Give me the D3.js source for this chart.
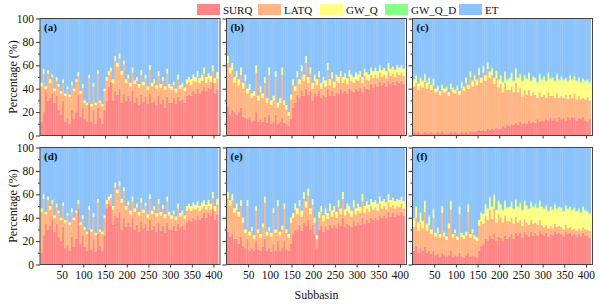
<!DOCTYPE html>
<html>
<head>
<meta charset="utf-8">
<script src="https://cdn.jsdelivr.net/npm/d3@7"></script>
<style>
body { margin: 0; background: #fff; }
svg { display: block; }
text { font-family: "Liberation Serif", "Times New Roman", serif; fill: #111; }
</style>
</head>
<body>
<svg id="chart" width="600" height="305"></svg>
<script>
"use strict";

// series names and legend order
const keys = ["SURQ", "LATQ", "GW_Q", "GW_Q_D", "ET"];
const colors = ["#ff8686", "#ffb684", "#ffff86", "#86ff86", "#8cc3fc"];
const panelNames = ["(a)", "(b)", "(c)", "(d)", "(e)", "(f)"];
const xTicks = [50, 100, 150, 200, 250, 300, 350, 400];
const yTicks = [0, 20, 40, 60, 80, 100];
const binSize = 5;   // each bar = 5 consecutive subbasins (1..410)

// (a)
const surqA = [12,20,38,30, 32,36,28,34, 22,18,30,12, 15,10,22,14, 20,35,16,24, 14,12,28,12, 22,10,24,15, 10,22,30,42, 46,30,38,35, 40,28,36,30, 34,30,38,28, 32,26,35,29, 33,27,36,28, 30,26,34,27, 31,24,33,28, 28,32,27,33, 30,31,28,34, 35,34,38,36, 40,36,38,42, 38,41,40,45, 36,40];
const latqA = [30,33,2,23, 13,14,10,13, 20,18,15,22, 25,23,21,24, 26,16,20,17, 14,14,21,13, 20,16,29,13, 15,16,17,10, 9,15,26,24, 26,24,25,15, 15,12,16,16, 15,15,17,14, 16,12,20,14, 15,14,17,14, 16,15,20,13, 11,11,10,15, 10,11,10,10, 11,9,9,10, 10,9,9,11, 7,8,6,10, 9,9];
const gwqA = [3,4,2,3, 3,2,2,3, 2,2,3,2, 2,2,3,2, 2,3,2,3, 2,2,3,2, 3,2,3,2, 2,2,3,3, 3,3,4,3, 4,3,3,3, 3,3,4,3, 3,3,4,3, 3,3,4,3, 3,3,4,3, 3,3,4,3, 3,3,3,4, 3,3,3,4, 4,5,5,4, 5,4,5,5, 5,4,5,5, 4,5];
const gwqdA = [0,0,0,0,0,0,0,0,0,0, 0,0,0,0,0,0,0,0,0,0, 0,0,0,0,0,0,0,0,0,0, 0,0,0,0,0,0,0,0,0,0, 0,0,0,0,0,0,0,0,0,0, 0,0,0,0,0,0,0,0,0,0, 0,0,0,0,0,0,0,0,0,0, 0,0,0,0,0,0,0,0,0,0, 0,0];
const etA = [55,43,58,44, 52,48,60,50, 56,62,52,64, 58,65,54,60, 52,46,62,56, 70,72,48,73, 55,72,44,70, 73,60,50,45, 42,52,32,38, 30,45,36,52, 48,55,42,53, 50,56,44,54, 48,58,40,55, 52,57,45,56, 50,58,43,56, 58,54,60,48, 57,55,59,52, 50,52,48,50, 45,51,48,42, 50,47,49,40, 51,46];

// (b)
const surqB = [25,18,22,20, 18,20,24,16, 15,14,16,12, 13,20,12,14, 12,16,11,18, 10,12,18,10, 12,15,11,10, 8,14,24,28, 35,32,38,34, 40,35,38,30, 36,34,38,32, 35,33,40,34, 38,34,37,36, 40,37,38,36, 40,38,37,40, 38,41,37,42, 40,39,44,41, 44,42,46,43, 45,42,47,44, 46,43,47,45, 47,44];
const latqB = [37,35,34,25, 32,23,28,24, 32,22,23,20, 21,34,18,23, 20,29,17,34, 16,18,32,14, 16,37,15,12, 9,17,19,10, 15,12,17,13, 22,10,15,10, 11,9,12,8, 10,9,16,9, 11,7,10,9, 10,8,10,8, 10,9,8,8, 9,9,8,9, 8,8,8,8, 8,7,8,7, 7,7,8,7, 7,7,7,7, 7,7];
const gwqB = [6,5,6,5, 5,5,6,5, 5,4,5,4, 4,6,4,5, 4,5,4,6, 4,4,5,4, 4,6,4,4, 3,4,5,4, 5,4,5,5, 6,5,5,5, 5,5,5,5, 5,5,6,5, 5,5,5,5, 5,5,5,5, 6,5,5,6, 5,5,5,6, 6,5,6,6, 6,6,6,6, 6,6,7,6, 6,6,6,6, 6,6];
const gwqdB = [0,0,0,0,0,0,0,0,0,0, 0,0,0,0,0,0,0,0,0,0, 0,0,0,0,0,0,0,0,0,0, 0,0,0,0,0,0,0,0,0,0, 0,0,0,0,0,0,0,0,0,0, 0,0,0,0,0,0,0,0,0,0, 0,0,0,0,0,0,0,0,0,0, 0,0,0,0,0,0,0,0,0,0, 0,0];
const etB = [32,42,38,50, 45,52,42,55, 48,60,56,64, 62,40,66,58, 64,50,68,42, 70,66,45,72, 68,42,70,74, 80,65,52,58, 45,52,40,48, 32,50,42,55, 48,52,45,55, 50,53,38,52, 46,54,48,50, 45,50,47,51, 44,48,50,46, 48,45,50,43, 46,48,42,45, 42,45,40,44, 42,45,38,43, 41,44,40,42, 40,43];

// (c)
const surqC = [3,2,3,2, 2,3,2,2, 3,2,2,3, 2,3,2,2, 2,3,2,3, 2,2,3,2, 3,2,4,3, 3,4,5,4, 5,4,6,5, 6,5,7,6, 6,8,7,9, 8,10,9,11, 9,12,10,11, 10,13,11,12, 11,14,12,13, 12,14,13,15, 13,15,12,16, 14,15,13,16, 14,16,15,13, 15,14,16,13, 12,14];
const latqC = [39,43,36,41, 39,43,38,42, 36,41,35,35, 33,36,35,36, 32,37,35,33, 37,33,38,36, 42,38,46,39, 44,39,47,41, 49,43,51,44, 46,39,42,35, 38,29,38,30, 31,32,28,34, 28,29,23,28, 25,26,23,25, 24,18,25,20, 23,18,24,19, 21,17,24,16, 20,17,22,15, 21,16,21,18, 19,17,16,18, 21,16];
const gwqC = [5,6,5,6, 5,6,5,5, 4,5,3,4, 3,4,3,3, 3,4,3,3, 3,3,4,3, 4,3,4,4, 4,4,5,4, 5,4,5,5, 5,5,6,6, 7,8,9,8, 10,11,9,12, 12,11,13,12, 13,14,12,13, 14,13,15,14, 15,14,16,14, 15,14,16,15, 16,15,14,15, 16,15,14,15, 15,14,16,15, 14,15];
const gwqdC = [1,1,1,1,1,1,1,1,1,1, 0,1,0,1,0,1,0,1,1,0, 1,0,1,1,1,1,1,1,1,1, 1,1,1,1,1,1,1,1,1,1, 1,1,1,1,1,1,1,1,1,1, 1,1,1,1,1,1,1,1,1,1, 1,1,1,1,1,1,1,1,1,1, 1,1,1,1,1,1,1,1,1,1, 1,1];
const etC = [52,48,55,50, 53,47,54,50, 56,51,60,57, 62,56,60,58, 63,55,59,61, 57,62,54,58, 50,56,45,53, 48,52,42,50, 40,48,37,45, 42,50,44,52, 48,54,45,52, 50,46,53,42, 50,47,53,48, 51,46,53,49, 50,54,47,52, 49,53,46,51, 50,53,47,52, 49,52,50,53, 48,52,49,53, 50,54,51,53, 52,54];

// (d)
const surqD = [10,25,35,30, 33,38,28,35, 24,20,32,14, 17,12,24,15, 22,48,18,25, 15,12,30,13, 22,11,26,16, 12,25,48,52, 50,34,42,40, 45,30,40,32, 36,32,40,30, 34,28,37,31, 35,29,38,30, 33,28,36,29, 33,27,36,30, 30,33,29,35, 32,33,30,36, 38,37,40,38, 42,38,40,44, 40,44,42,48, 38,43];
const latqD = [35,31,8,25, 14,14,12,14, 20,18,18,22, 25,22,21,23, 22,4,16,14, 15,14,17,15, 19,14,27,12, 14,15,4,3, 7,13,24,21, 22,23,23,15, 15,11,14,15, 15,14,16,13, 15,11,18,13, 14,13,16,13, 15,13,18,12, 9,10,9,13, 9,10,9,10, 10,9,8,9, 7,8,8,6, 7,6,5,9, 8,8];
const gwqD = [3,4,2,3, 3,3,2,3, 2,2,3,2, 2,2,3,2, 2,3,2,3, 2,2,3,2, 3,2,3,2, 2,2,3,3, 3,3,4,3, 4,3,3,3, 3,3,4,3, 3,3,4,3, 3,3,4,3, 3,3,4,3, 3,3,4,3, 3,3,3,4, 3,3,3,4, 4,4,5,4, 5,4,5,5, 4,5,5,5, 4,5];
const gwqdD = [0,0,0,0,0,0,0,0,0,0, 0,0,0,0,0,0,0,0,0,0, 0,0,0,0,0,0,0,0,0,0, 0,0,0,0,0,0,0,0,0,0, 0,0,0,0,0,0,0,0,0,0, 0,0,0,0,0,0,0,0,0,0, 0,0,0,0,0,0,0,0,0,0, 0,0,0,0,0,0,0,0,0,0, 0,0];
const etD = [52,40,55,42, 50,45,58,48, 54,60,47,62, 56,64,52,60, 54,45,64,58, 68,72,50,70, 56,73,44,70, 72,58,45,42, 40,50,30,36, 29,44,34,50, 46,54,42,52, 48,55,43,53, 47,57,40,54, 50,56,44,55, 49,57,42,55, 58,54,59,48, 56,54,58,50, 48,50,47,49, 46,50,47,45, 49,45,48,38, 50,44];

// (e)
const surqE = [28,24,26,22, 22,18,24,16, 14,22,12,14, 12,20,13,12, 15,22,12,14, 11,18,12,20, 12,14,20,13, 12,18,26,30, 30,34,29,36, 33,38,30,34, 26,14,30,33, 28,32,30,34, 31,34,31,36, 33,40,32,35, 34,32,37,33, 36,34,40,35, 38,36,40,38, 40,38,42,40, 42,40,45,41, 44,41,43,42, 45,42];
const latqE = [29,26,29,22, 25,23,26,20, 13,28,13,15, 10,26,14,11, 17,31,13,15, 13,26,15,30, 13,16,28,14, 11,18,14,17, 13,16,12,20, 16,21,13,17, 10,8,10,12, 9,11,9,12, 10,11,9,13, 10,16,10,11, 10,9,12,10, 10,10,14,9, 10,9,10,9, 9,8,10,8, 8,7,8,8, 7,7,7,7, 7,6];
const gwqE = [5,5,5,4, 5,4,5,4, 3,5,3,3, 3,4,3,3, 3,5,3,3, 3,4,3,5, 3,3,4,3, 3,4,4,5, 5,5,5,6, 5,6,5,5, 4,3,5,5, 5,5,5,6, 5,5,5,6, 5,6,5,6, 6,5,6,5, 6,5,6,6, 6,6,6,6, 6,6,6,6, 6,6,7,6, 6,6,6,6, 6,6];
const gwqdE = [0,0,0,0,0,0,0,0,0,0, 0,0,0,0,0,0,0,0,0,0, 0,0,0,0,0,0,0,0,0,0, 0,0,0,0,0,0,0,0,0,0, 0,0,0,0,0,0,0,0,0,0, 0,0,0,0,0,0,0,0,0,0, 0,0,0,0,0,0,0,0,0,0, 0,0,0,0,0,0,0,0,0,0, 0,0];
const etE = [38,45,40,52, 48,55,45,60, 70,45,72,68, 75,50,70,74, 65,42,72,68, 73,52,70,45, 72,67,48,70, 74,60,56,48, 52,45,54,38, 46,35,52,44, 60,75,55,50, 58,52,56,48, 54,50,55,45, 52,38,53,48, 50,54,45,52, 48,51,40,50, 46,49,44,47, 45,48,42,46, 44,47,40,45, 43,46,44,45, 42,46];

// (f)
const surqF = [12,16,10,14, 12,15,10,12, 9,12,8,9, 7,10,8,7, 8,12,7,8, 7,10,7,6, 8,10,7,8, 7,6,12,16, 18,22,20,25, 22,26,20,24, 23,20,25,22, 24,26,22,27, 25,27,23,28, 26,24,28,25, 27,25,29,26, 25,27,24,26, 25,28,26,27, 26,24,28,26, 27,25,26,24, 26,24,27,25, 25,23];
const latqF = [20,24,19,22, 19,30,19,22, 17,28,16,18, 16,34,16,14, 23,35,16,19, 14,33,17,16, 17,35,16,19, 15,14,21,21, 17,20,18,22, 17,22,16,19, 17,16,17,15, 13,14,13,14, 11,11,10,11, 10,10,10,10, 9,9,9,8, 7,7,7,7, 6,7,6,6, 6,6,6,5, 5,5,5,5, 5,5,5,5, 5,6];
const gwqF = [7,9,6,8, 6,9,5,7, 4,7,3,4, 3,6,3,3, 4,7,3,3, 3,6,3,3, 3,6,3,3, 3,3,5,7, 8,9,9,10, 10,11,10,11, 11,10,12,11, 12,13,12,14, 13,14,13,15, 14,13,15,14, 15,14,16,15, 15,16,14,16, 15,16,15,16, 16,15,16,16, 17,16,17,16, 16,15,17,16, 15,14];
const gwqdF = [1,1,1,1,1,1,1,1,0,1, 0,1,0,0,1,0,0,1,0,0, 0,1,0,0,0,1,0,0,0,0, 0,1,1,1,1,1,1,1,1,1, 1,1,1,1,1,1,1,1,1,1, 1,1,1,1,1,1,1,1,1,1, 1,1,1,1,1,1,1,1,1,1, 1,1,1,1,1,1,1,1,1,1, 1,1];
const etF = [60,50,64,55, 62,45,65,58, 70,52,73,68, 74,50,72,76, 65,45,74,70, 76,50,73,75, 72,48,74,70, 75,77,62,55, 56,48,52,42, 50,40,53,45, 48,53,45,51, 50,46,52,44, 50,47,53,45, 49,52,46,50, 48,51,45,50, 52,49,54,50, 53,48,52,50, 51,54,49,52, 50,53,51,54, 52,55,50,53, 54,56];

const panelSeries = [
	[surqA, latqA, gwqA, gwqdA, etA],
	[surqB, latqB, gwqB, gwqdB, etB],
	[surqC, latqC, gwqC, gwqdC, etC],
	[surqD, latqD, gwqD, gwqdD, etD],
	[surqE, latqE, gwqE, gwqdE, etE],
	[surqF, latqF, gwqF, gwqdF, etF]
];

//layout
const colLeft = [40, 226.5, 412.5];
const rowTop = [18.5, 147.5];
const pw = 180, ph = 117;

const svg = d3.select("#chart");

const x = d3.scaleLinear().domain([0, 415]).range([0, pw]);
const y = d3.scaleLinear().domain([0, 1]).range([ph, 0]);
const color = d3.scaleOrdinal().domain(keys).range(colors);

const stack = d3.stack().keys(keys).offset(d3.stackOffsetExpand);

panelSeries.forEach(function(series, p)
{
	let col = p % 3, row = Math.floor(p / 3);
	let g = svg.append("g")
		.attr("transform", "translate(" + colLeft[col] + "," + rowTop[row] + ")");

	//rows: one per bin of subbasins
	let rows = series[0].map(function(v, i)
	{
		let r = { start: i * binSize + 1 };
		keys.forEach(function(k, j) { r[k] = series[j][i]; });
		return r;
	});

	g.append("clipPath").attr("id", "clip" + p)
		.append("rect").attr("width", pw).attr("height", ph);

	let layers = g.append("g").attr("clip-path", "url(#clip" + p + ")")
		.selectAll("g")
		.data(stack(rows))
		.join("g")
		.attr("fill", function(d) { return color(d.key); });

	layers.selectAll("rect")
		.data(function(d) { return d; })
		.join("rect")
		.attr("x", function(d) { return x(d.data.start - 0.5); })
		.attr("width", function(d) { return x(d.data.start + binSize - 0.5) - x(d.data.start - 0.5) + 0.35; })
		.attr("y", function(d) { return y(d[1]); })
		.attr("height", function(d) { return Math.max(0, y(d[0]) - y(d[1])); });

	//y axis
	let yAxis = d3.axisLeft(y)
		.tickValues(yTicks.map(function(t) { return t / 100; }))
		.tickSize(4)
		.tickPadding(2)
		.tickFormat(col === 0 ? function(d) { return Math.round(d * 100); } : "");
	let ya = g.append("g").call(yAxis);
	let yMinor = g.append("g").call(d3.axisLeft(y)
		.tickValues([0.1, 0.3, 0.5, 0.7, 0.9]).tickSize(2).tickFormat(""));

	//x axis
	let xAxis = d3.axisBottom(x)
		.tickValues(xTicks)
		.tickSize(3)
		.tickPadding(3)
		.tickFormat(row === 1 ? d3.format("d") : "");
	let xa = g.append("g").attr("transform", "translate(0," + ph + ")").call(xAxis);

	[ya, yMinor, xa].forEach(function(a)
	{
		a.select(".domain").remove();
		a.selectAll("line").attr("stroke", "#333");
		a.selectAll("text")
			.attr("fill", "#111")
			.style("font-size", "11.5px")
			.style("font-family", "'Liberation Serif', serif");
	});

	//frame
	g.append("rect")
		.attr("width", pw).attr("height", ph)
		.attr("fill", "none")
		.attr("stroke", "#444")
		.attr("stroke-width", 1);

	g.append("text")
		.attr("x", 4).attr("y", 12)
		.attr("font-size", "11px")
		.attr("font-weight", "bold")
		.attr("fill", "#222")
		.text(panelNames[p]);
});

//axis titles
[rowTop[0] + ph / 2, rowTop[1] + ph / 2].forEach(function(cy)
{
	svg.append("text")
		.attr("transform", "translate(14," + cy + ") rotate(-90)")
		.attr("text-anchor", "middle")
		.attr("dominant-baseline", "middle")
		.attr("font-size", "12px")
		.text("Percentage (%)");
});

svg.append("text")
	.attr("x", colLeft[1] + pw / 2).attr("y", 299)
	.attr("text-anchor", "middle")
	.attr("font-size", "12px")
	.text("Subbasin");

//legend
const legendX = [197, 258, 320, 385, 459];
const legend = svg.append("g");
keys.forEach(function(k, i)
{
	legend.append("rect")
		.attr("x", legendX[i]).attr("y", 4)
		.attr("width", 23).attr("height", 11)
		.attr("fill", color(k));
	legend.append("text")
		.attr("x", legendX[i] + 26).attr("y", 14)
		.attr("font-size", "11px")
		.text(k);
});
</script>
</body>
</html>
